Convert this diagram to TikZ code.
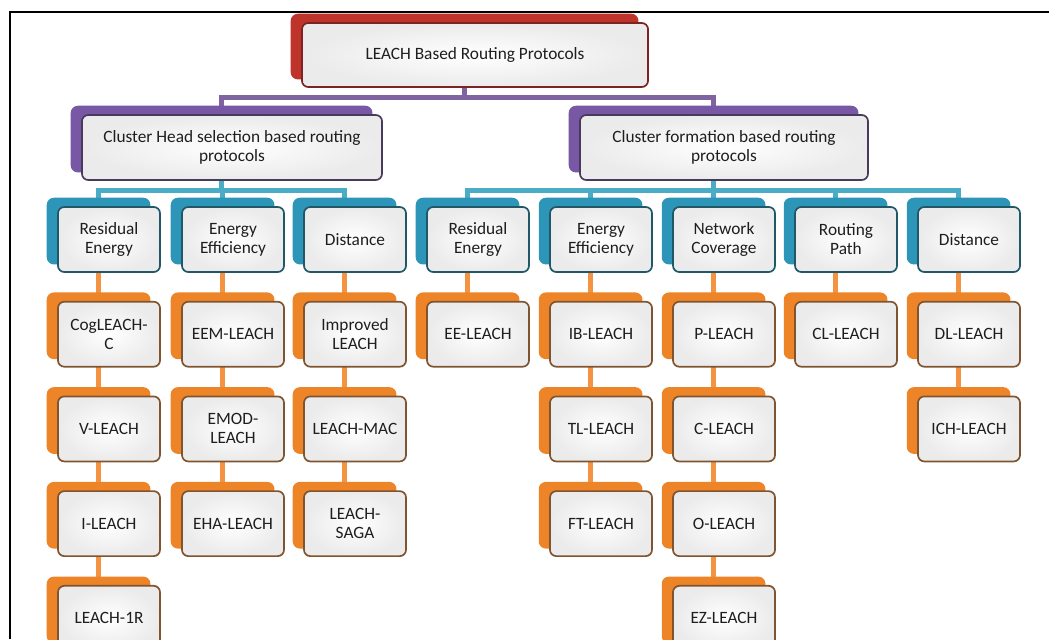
\documentclass[tikz,border=0pt]{standalone}
\usepackage{fontspec}
\setmainfont{Carlito}
\usetikzlibrary{positioning,shadows,backgrounds}
\definecolor{redback}{RGB}{190,52,42}
\definecolor{redline}{RGB}{125,35,35}
\definecolor{purpleback}{RGB}{120,88,164}
\definecolor{purpleline}{RGB}{72,58,92}
\definecolor{purplelink}{RGB}{128,100,162}
\definecolor{tealback}{RGB}{45,150,184}
\definecolor{tealline}{RGB}{32,88,104}
\definecolor{teallink}{RGB}{75,172,198}
\definecolor{orangeback}{RGB}{238,132,40}
\definecolor{orangeline}{RGB}{128,84,46}
\definecolor{orangelink}{RGB}{244,148,66}
\definecolor{boxtext}{RGB}{30,30,30}
\tikzset{
  box/.style={rounded corners=4.5pt, line width=1.2pt, draw=#1line,
    inner color=white, outer color=black!8, text=boxtext,
    align=center, font=\fontsize{12.3}{13.5}\selectfont, inner sep=2pt,
    minimum width=2.55cm, minimum height=1.625cm,
    copy shadow={shadow xshift=-2.6mm, shadow yshift=2.1mm, fill=#1back, draw=#1back}},
  link/.style={line width=3.5pt, draw=#1link},
}
\begin{document}
\begin{tikzpicture}[x=0.025cm, y=0.025cm, node distance=0.7cm]
\useasboundingbox (0,0) rectangle (1049,639);
\draw[line width=1.4pt] (10,0) -- (10,627) -- (1049,627);

\node[box=red, minimum width=8.65cm, minimum height=1.6cm] (top) at (475,584) {LEACH Based Routing Protocols};
\node[box=purple, minimum width=7.5cm] (ch) at (232,491.5) {Cluster Head selection based routing\\protocols};
\node[box=purple, minimum width=7.2cm] (cf) at (724,491.5) {Cluster formation based routing\\protocols};

\node[box=teal] (re1) at (109,399.5) {Residual\\Energy};
\node[box=teal] (ee1) at (233,399.5) {Energy\\Efficiency};
\node[box=teal] (di1) at (355,399.5) {Distance};
\node[box=teal] (re2) at (478,399.5) {Residual\\Energy};
\node[box=teal] (ee2) at (601,399.5) {Energy\\Efficiency};
\node[box=teal] (nc) at (724,399.5) {Network\\Coverage};
\node[box=teal] (rp) at (846,399.5) {Routing\\Path};
\node[box=teal] (di2) at (969,399.5) {Distance};

\node[box=orange, below=of re1] (cog) {CogLEACH-\\C};
\node[box=orange, below=of cog] (vl) {V-LEACH};
\node[box=orange, below=of vl] (il) {I-LEACH};
\node[box=orange, below=of il] (l1r) {LEACH-1R};

\node[box=orange, below=of ee1] (eem) {EEM-LEACH};
\node[box=orange, below=of eem] (emod) {EMOD-\\LEACH};
\node[box=orange, below=of emod] (eha) {EHA-LEACH};

\node[box=orange, below=of di1] (imp) {Improved\\LEACH};
\node[box=orange, below=of imp] (mac) {LEACH-MAC};
\node[box=orange, below=of mac] (saga) {LEACH-\\SAGA};

\node[box=orange, below=of re2] (eel) {EE-LEACH};

\node[box=orange, below=of ee2] (ib) {IB-LEACH};
\node[box=orange, below=of ib] (tl) {TL-LEACH};
\node[box=orange, below=of tl] (ft) {FT-LEACH};

\node[box=orange, below=of nc] (pl) {P-LEACH};
\node[box=orange, below=of pl] (cl) {C-LEACH};
\node[box=orange, below=of cl] (ol) {O-LEACH};
\node[box=orange, below=of ol] (ez) {EZ-LEACH};

\node[box=orange, below=of rp] (cll) {CL-LEACH};

\node[box=orange, below=of di2] (dl) {DL-LEACH};
\node[box=orange, below=of dl] (ich) {ICH-LEACH};

\begin{scope}[on background layer]
\foreach \p/\k/\c in {top/ch/purple, top/cf/purple,
    ch/re1/teal, ch/ee1/teal, ch/di1/teal,
    cf/re2/teal, cf/ee2/teal, cf/nc/teal, cf/rp/teal, cf/di2/teal,
    re1/cog/orange, cog/vl/orange, vl/il/orange, il/l1r/orange,
    ee1/eem/orange, eem/emod/orange, emod/eha/orange,
    di1/imp/orange, imp/mac/orange, mac/saga/orange,
    re2/eel/orange,
    ee2/ib/orange, ib/tl/orange, tl/ft/orange,
    nc/pl/orange, pl/cl/orange, cl/ol/orange, ol/ez/orange,
    rp/cll/orange,
    di2/dl/orange, dl/ich/orange}
  \draw[link=\c] ([xshift=-2.6mm]\p.center) -- ([shift={(-2.6mm,-2.5mm)}]\p.south) -| ([xshift=-2.6mm]\k.center);
\end{scope}
\end{tikzpicture}
\end{document}
